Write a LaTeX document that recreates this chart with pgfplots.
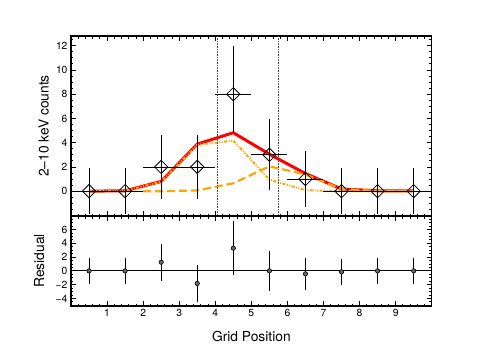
\documentclass[border=0pt]{standalone}
\usepackage{fontspec}
\setmainfont{TeX Gyre Heros}
\usepackage{pgfplots}
\pgfplotsset{compat=1.18}
\usepackage{pgfplotstable}
\definecolor{modelorange}{RGB}{255,165,0}

% counts with errors: x, y, half bin width, error up, error down
\pgfplotstableread{
x   y   ex   eyp   eym
0.5 0   0.5  1.87  1.87
1.5 0   0.5  1.87  1.87
2.5 2   0.5  2.66  2.66
3.5 2   0.5  2.66  2.66
4.5 8   0.5  3.96  3.15
5.5 3   0.5  2.94  2.94
6.5 1   0.5  2.32  2.32
7.5 0   0.5  1.87  1.87
8.5 0   0.5  1.87  1.87
9.5 0   0.5  1.87  1.87
}\counts

\pgfplotstableread{
x   r      er
0.5 0.00   1.87
1.5 0.00   1.87
2.5 1.26   2.66
3.5 -1.83  2.66
4.5 3.30   3.96
5.5 0.00   2.94
6.5 -0.43  2.32
7.5 -0.14  1.87
8.5 0.00   1.87
9.5 0.00   1.87
}\resid

\pgfplotsset{
  panel/.style={
    scale only axis,
    width=360.7pt,
    xmin=0, xmax=10,
    axis line style={line width=1.1pt},
    tick style={black, line width=0.8pt},
    tick align=inside,
    tick pos=both,
    major tick length=5pt,
    minor tick length=2.5pt,
    xtick={1,...,9},
    minor xtick={0,0.2,0.4,0.6,0.8,1.2,1.4,1.6,1.8,2.2,2.4,2.6,2.8,3.2,3.4,3.6,3.8,4.2,4.4,4.6,4.8,5.2,5.4,5.6,5.8,6.2,6.4,6.6,6.8,7.2,7.4,7.6,7.8,8.2,8.4,8.6,8.8,9.2,9.4,9.6,9.8},
    /pgf/number format/assume math mode=true,
    tick label style={font=\fontsize{10.3}{12}\selectfont},
    label style={font=\fontsize{13.8}{16}\selectfont},
  },
}

\begin{document}
\begin{tikzpicture}
\path (0,0) rectangle (480pt,360pt);

\begin{axis}[panel,
  at={(71pt,144pt)}, anchor=south west,
  height=180pt,
  ymin=-2.05, ymax=12.8,
  xticklabels=\empty,
  ytick={0,2,...,12},
  minor ytick={-2,-1.5,-1,-0.5,0.5,1,1.5,2.5,3,3.5,4.5,5,5.5,6.5,7,7.5,8.5,9,9.5,10.5,11,11.5,12.5},
  ylabel={2–10 keV counts},
  ylabel style={at={(axis description cs:-0.076,0.5)}, anchor=center},
]
% total model
\addplot[red, line width=3pt, line join=round] coordinates {
  (0.5,0.0) (1.5,0.03) (2.5,0.80) (3.5,3.88) (4.5,4.82) (5.5,3.05) (6.5,1.45) (7.5,0.18) (8.5,0.03) (9.5,0.02)
};
% component 1
\addplot[modelorange, line width=2pt, dash pattern=on 3pt off 1.5pt on 1pt off 1.5pt on 1pt off 1.5pt] coordinates {
  (0.5,0.0) (1.5,0.03) (2.5,0.78) (3.5,3.82) (4.5,4.17) (5.5,0.95) (6.5,0.08) (7.5,0.0) (8.5,0.0) (9.5,0.0)
};
% component 2
\addplot[modelorange, line width=2.2pt, dash pattern=on 8pt off 4pt] coordinates {
  (2.0,0.0) (2.5,0.0) (3.5,0.06) (4.5,0.65) (5.5,2.05) (6.5,1.37) (7.5,0.18) (8.5,0.02) (9.5,0.02)
};
% region boundaries
\addplot[black!70, line width=0.6pt, densely dotted] coordinates {(4.05,-2.05) (4.05,12.8)};
\addplot[black!70, line width=0.6pt, densely dotted] coordinates {(5.75,-2.05) (5.75,12.8)};
% data
\addplot[black, line width=0.8pt, only marks, mark=square,
  mark size=4.7pt, mark options={rotate=45, line width=0.8pt},
  error bars/.cd, x dir=both, x explicit, y dir=both, y explicit,
  error mark=none, error bar style={line width=0.8pt}]
  table[x=x, y=y, x error=ex, y error plus=eyp, y error minus=eym] {\counts};
\end{axis}

\begin{axis}[panel,
  at={(71pt,54pt)}, anchor=south west,
  height=90pt,
  ymin=-5.1, ymax=7.97,
  ytick={-4,-2,0,2,4,6},
  yticklabels={−4,−2,0,2,4,6},
  minor ytick={-5,-4.5,-3.5,-3,-2.5,-1.5,-1,-0.5,0.5,1,1.5,2.5,3,3.5,4.5,5,5.5,6.5,7,7.5},
  ylabel={Residual},
  ylabel style={at={(axis description cs:-0.088,0.5)}, anchor=center},
  xlabel={Grid Position},
  xlabel style={at={(axis description cs:0.5,-0.333)}, anchor=center},
]
\addplot[black, line width=0.8pt] coordinates {(0,0) (10,0)};
\addplot[black, line width=0.8pt, only marks, mark=*,
  mark size=2.2pt, mark options={fill=black!60, draw=black, line width=0.6pt},
  error bars/.cd, y dir=both, y explicit,
  error mark=none, error bar style={line width=0.8pt}]
  table[x=x, y=r, y error=er] {\resid};
\end{axis}
\end{tikzpicture}
\end{document}
